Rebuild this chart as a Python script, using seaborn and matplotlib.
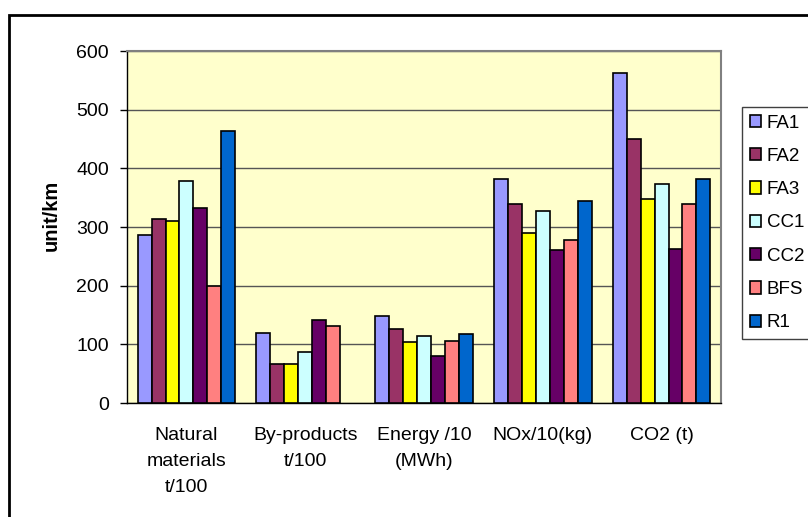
import numpy as np
import pandas as pd
import matplotlib
matplotlib.use('Agg')
import matplotlib.pyplot as plt
from matplotlib.patches import Rectangle
import seaborn as sns

# --- data ---
categories = ['Natural\nmaterials\nt/100', 'By-products\nt/100', 'Energy /10\n(MWh)',
              'NOx/10(kg)', 'CO2 (t)']
series = ['FA1', 'FA2', 'FA3', 'CC1', 'CC2', 'BFS', 'R1']
fa1 = [287, 120, 148, 382, 562]
fa2 = [314, 66, 126, 339, 450]
fa3 = [311, 66, 104, 290, 347]
cc1 = [379, 87, 115, 328, 374]
cc2 = [333, 142, 80, 260, 262]
bfs = [200, 132, 106, 278, 339]
r1 = [464, np.nan, 118, 344, 382]
colors = ['#9999FF', '#993366', '#FFFF00', '#CCFFFF', '#660066', '#FF8080', '#0066CC']

rows = []
for name, vals in zip(series, [fa1, fa2, fa3, cc1, cc2, bfs, r1]):
    for cat, v in zip(categories, vals):
        rows.append({'cat': cat, 'series': name, 'value': v})
df = pd.DataFrame(rows)

sns.set_style('white')
plt.rcParams['font.family'] = ['Liberation Sans', 'DejaVu Sans']
plt.rcParams['text.color'] = 'black'
plt.rcParams['axes.labelcolor'] = 'black'
plt.rcParams['xtick.color'] = 'black'
plt.rcParams['ytick.color'] = 'black'

W, H = 808, 517
fig = plt.figure(figsize=(W / 100, H / 100), dpi=100)
ax = fig.add_axes([127 / W, 1 - 403 / H, (721 - 127) / W, (403 - 51) / H])
ax.set_facecolor('#FFFFCC')

sns.barplot(data=df, x='cat', y='value', hue='series', order=categories,
            hue_order=series, palette=colors, saturation=1, width=0.82,
            edgecolor='black', linewidth=1.2, errorbar=None, ax=ax, zorder=3)

ax.set_ylim(0, 600)
ax.set_xlim(-0.5, 4.5)
ax.set_yticks(range(0, 601, 100))
ax.yaxis.grid(True, color='#555555', linewidth=1, zorder=0)
ax.set_axisbelow(True)
ax.tick_params(axis='y', direction='out', length=5, width=1,
               labelsize=14, left=True, pad=8)
ax.set_xticks(range(len(categories)))
ax.set_xticklabels(categories, fontsize=14, linespacing=1.7)
ax.set_xticks(np.arange(-0.5, 5, 1), minor=True)
ax.tick_params(axis='x', which='major', length=0, pad=17)
ax.tick_params(axis='x', which='minor', direction='out', length=5, width=1)
ax.set_xlabel('')
ax.set_ylabel('unit/km', fontsize=14.5, fontweight='bold')
ax.yaxis.set_label_coords(-0.111, 0.534)

for side in ['left', 'bottom']:
    ax.spines[side].set_color('black')
    ax.spines[side].set_linewidth(1)
for side in ['top', 'right']:
    ax.spines[side].set_visible(True)
    ax.spines[side].set_color('#808080')
    ax.spines[side].set_linewidth(1.5)

handles, labels = ax.get_legend_handles_labels()
ax.legend_.remove()
leg = fig.legend(handles, labels, loc='upper left',
                 bbox_to_anchor=(742 / W, 1 - 107 / H), bbox_transform=fig.transFigure,
                 borderaxespad=0, fancybox=False, framealpha=1, edgecolor='#404040',
                 fontsize=13.5, handlelength=0.62, handleheight=0.62,
                 handletextpad=0.3, labelspacing=0.87, borderpad=0.4)
leg.get_frame().set_linewidth(1)

# outer chart border
fig.patches.append(Rectangle((9 / W, -0.1), 1.2, 1 - 15 / H + 0.1,
                             transform=fig.transFigure, fill=False,
                             edgecolor='black', linewidth=2))

fig.savefig('out.png', dpi=100)
